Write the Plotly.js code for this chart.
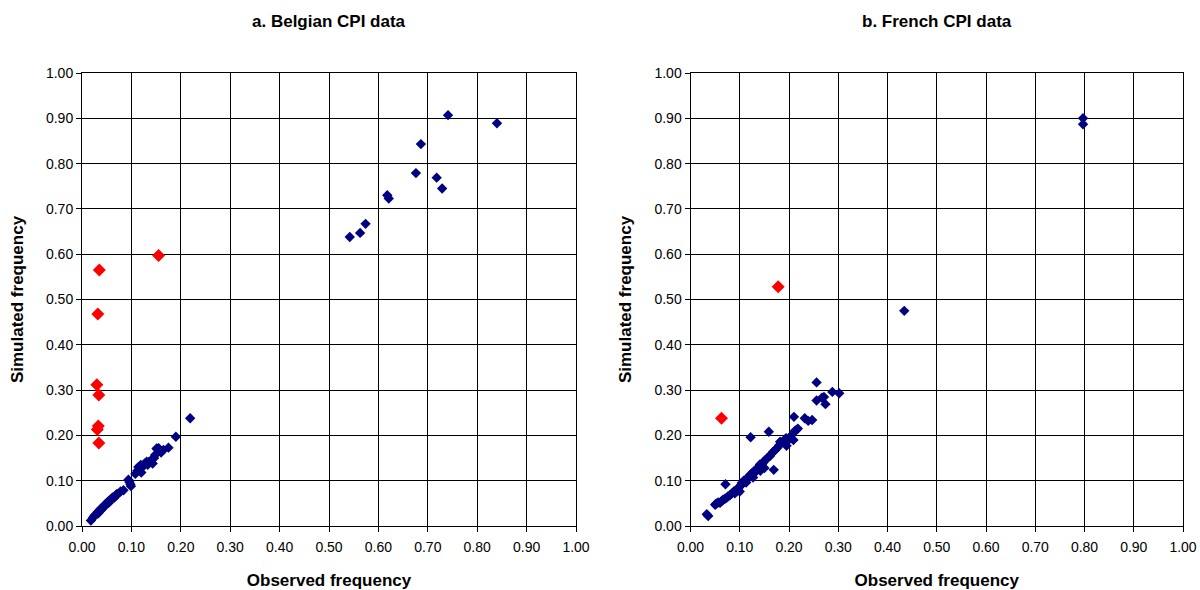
<!DOCTYPE html>
<html><head><meta charset="utf-8">
<script src="https://cdn.plot.ly/plotly-3.0.1.min.js"></script>
<style>body{margin:0;background:#fff}#chart{width:1200px;height:590px}</style>
</head><body><div id="chart"></div>
<script>
// Belgian CPI data
const belObsBlue = [0.018,0.022,0.025,0.027,0.030,0.032,0.033,0.035,0.036,0.038,0.040,0.041,0.043,0.045,0.046,0.048,0.050,0.052,0.054,0.055,0.057,0.060,0.062,0.065,0.068,0.070,0.073,0.078,0.084,0.094,0.096,0.098,0.099,0.108,0.112,0.114,0.119,0.120,0.124,0.127,0.131,0.133,0.136,0.140,0.143,0.146,0.148,0.151,0.152,0.155,0.160,0.165,0.175,0.190,0.219,0.542,0.563,0.574,0.618,0.621,0.676,0.686,0.718,0.729,0.741,0.840];
const belSimBlue = [0.012,0.018,0.022,0.025,0.027,0.031,0.028,0.033,0.036,0.035,0.040,0.038,0.042,0.044,0.047,0.046,0.050,0.053,0.051,0.056,0.058,0.060,0.063,0.062,0.067,0.070,0.071,0.076,0.079,0.102,0.097,0.092,0.088,0.115,0.122,0.130,0.135,0.118,0.132,0.138,0.142,0.135,0.142,0.145,0.138,0.150,0.157,0.171,0.170,0.172,0.162,0.168,0.173,0.197,0.238,0.638,0.647,0.667,0.730,0.723,0.779,0.843,0.769,0.745,0.907,0.889];
const belObsRed = [0.035,0.032,0.030,0.034,0.033,0.031,0.034,0.155];
const belSimRed = [0.565,0.468,0.312,0.289,0.221,0.213,0.183,0.597];
// French CPI data
const frObsBlue = [0.033,0.036,0.050,0.052,0.056,0.060,0.063,0.066,0.070,0.073,0.076,0.080,0.084,0.088,0.090,0.094,0.098,0.100,0.103,0.104,0.108,0.111,0.114,0.118,0.121,0.124,0.128,0.131,0.134,0.138,0.141,0.145,0.148,0.152,0.156,0.161,0.165,0.168,0.172,0.176,0.180,0.182,0.186,0.190,0.194,0.195,0.199,0.203,0.209,0.212,0.215,0.218,0.071,0.122,0.159,0.169,0.210,0.232,0.239,0.247,0.256,0.256,0.267,0.271,0.274,0.288,0.302,0.434,0.797,0.797,0.127,0.142,0.150,0.113,0.096];
const frSimBlue = [0.026,0.022,0.047,0.049,0.052,0.051,0.055,0.058,0.060,0.062,0.065,0.068,0.072,0.076,0.072,0.080,0.085,0.076,0.090,0.095,0.100,0.098,0.105,0.108,0.112,0.116,0.120,0.118,0.126,0.130,0.136,0.135,0.140,0.146,0.150,0.154,0.160,0.164,0.168,0.172,0.178,0.186,0.184,0.188,0.194,0.177,0.190,0.198,0.190,0.210,0.212,0.215,0.092,0.196,0.208,0.124,0.241,0.238,0.232,0.234,0.317,0.277,0.283,0.285,0.269,0.296,0.293,0.475,0.900,0.887,0.107,0.122,0.128,0.096,0.083];
const frObsRed = [0.063,0.178];
const frSimRed = [0.238,0.528];

const tickVals = [0,0.1,0.2,0.3,0.4,0.5,0.6,0.7,0.8,0.9,1.0];
const panelTitles = ['a. Belgian CPI data','b. French CPI data'];
const xTitle = 'Observed frequency';
const yTitle = 'Simulated frequency';

const FONT = 'Liberation Sans, Arial, sans-serif';
const blue = '#000080', red = '#FF0000';
function sc(x,y,xa,ya,color,size){
  return {x:x,y:y,xaxis:xa,yaxis:ya,type:'scatter',mode:'markers',
    marker:{symbol:'diamond',color:color,size:size,line:{width:0}},cliponaxis:false,hoverinfo:'skip'};
}
const data = [
  sc(belObsBlue,belSimBlue,'x','y',blue,8),
  sc(belObsRed,belSimRed,'x','y',red,10),
  sc(frObsBlue,frSimBlue,'x2','y2',blue,8),
  sc(frObsRed,frSimRed,'x2','y2',red,10)
];
function xax(dom,anchor){
  return {domain:dom,anchor:anchor,range:[0,1],tickvals:tickVals,tickformat:'.2f',
    showgrid:true,gridcolor:'#000',gridwidth:1,showline:true,linecolor:'#000',linewidth:1,mirror:true,
    ticks:'outside',ticklen:5,tickcolor:'#000',zeroline:false,ticklabelstandoff:3,
    tickfont:{family:FONT,size:14,color:'#000'},
    title:{text:xTitle,font:{family:FONT,size:17,color:'#000',weight:'bold'},standoff:21}};
}
function yax(dom,anchor){
  return {domain:dom,anchor:anchor,range:[0,1],tickvals:tickVals,tickformat:'.2f',
    showgrid:true,gridcolor:'#000',gridwidth:1,showline:true,linecolor:'#000',linewidth:1,mirror:true,
    ticks:'outside',ticklen:5,tickcolor:'#000',zeroline:false,
    tickfont:{family:FONT,size:14,color:'#000'},
    title:{text:yTitle,font:{family:FONT,size:17,color:'#000',weight:'bold'},standoff:18}};
}
const yDom = [1-526/590, 1-73/590];
const layout = {
  width:1200,height:590,margin:{l:0,r:0,t:0,b:0},
  paper_bgcolor:'#fff',plot_bgcolor:'#fff',showlegend:false,
  font:{family:FONT,color:'#000'},
  xaxis:xax([82/1200,576/1200],'y'),
  yaxis:yax(yDom,'x'),
  xaxis2:xax([690.5/1200,1183/1200],'y2'),
  yaxis2:yax(yDom,'x2'),
  annotations:[
    {text:'<b>'+panelTitles[0]+'</b>',xref:'paper',yref:'paper',x:(82+576)/2/1200,y:1-22/590,
     xanchor:'center',yanchor:'middle',showarrow:false,font:{family:FONT,size:17,color:'#000'}},
    {text:'<b>'+panelTitles[1]+'</b>',xref:'paper',yref:'paper',x:(690.5+1183)/2/1200,y:1-22/590,
     xanchor:'center',yanchor:'middle',showarrow:false,font:{family:FONT,size:17,color:'#000'}}
  ]
};
Plotly.newPlot('chart',data,layout,{staticPlot:true,displayModeBar:false});
</script></body></html>
